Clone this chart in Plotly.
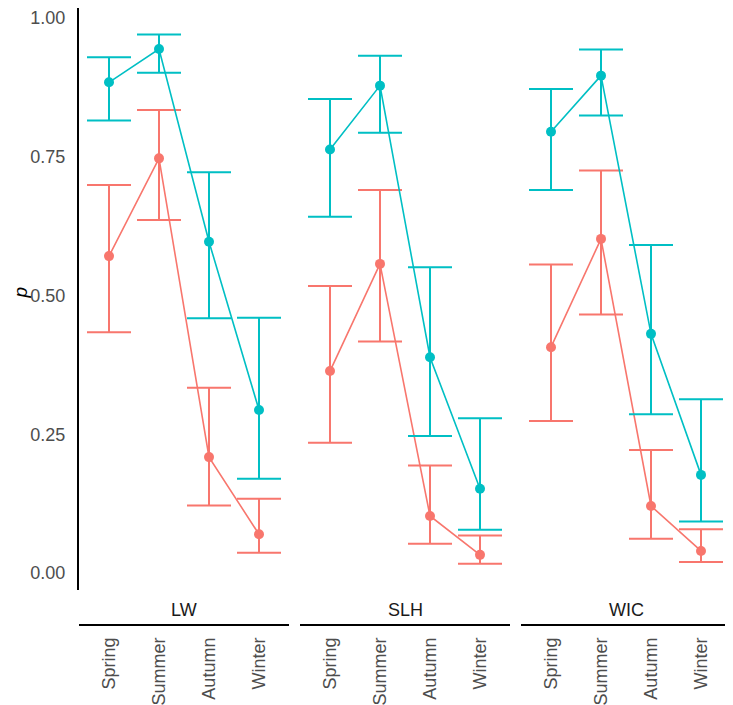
# Seasonal p by site, two groups, with error bars

import plotly.graph_objects as go
from plotly.subplots import make_subplots

sites = ['LW', 'SLH', 'WIC']
seasons = ['Spring', 'Summer', 'Autumn', 'Winter']

# red group (estimate, lower, upper) per site
red_p = {'LW': [0.571, 0.747, 0.209, 0.070],
         'SLH': [0.364, 0.557, 0.103, 0.033],
         'WIC': [0.407, 0.602, 0.121, 0.040]}
red_lo = {'LW': [0.434, 0.636, 0.122, 0.037],
          'SLH': [0.235, 0.417, 0.053, 0.017],
          'WIC': [0.274, 0.466, 0.062, 0.020]}
red_hi = {'LW': [0.699, 0.834, 0.334, 0.134],
          'SLH': [0.517, 0.690, 0.194, 0.068],
          'WIC': [0.556, 0.725, 0.222, 0.079]}

# teal group
teal_p = {'LW': [0.884, 0.944, 0.597, 0.294],
          'SLH': [0.763, 0.878, 0.389, 0.152],
          'WIC': [0.795, 0.896, 0.431, 0.177]}
teal_lo = {'LW': [0.815, 0.901, 0.459, 0.170],
           'SLH': [0.642, 0.793, 0.247, 0.078],
           'WIC': [0.690, 0.824, 0.286, 0.093]}
teal_hi = {'LW': [0.929, 0.970, 0.722, 0.460],
           'SLH': [0.854, 0.932, 0.551, 0.279],
           'WIC': [0.872, 0.943, 0.591, 0.313]}

y_ticks = [0.00, 0.25, 0.50, 0.75, 1.00]

RED = '#F8766D'
TEAL = '#00BFC4'
FONT = 'Liberation Sans, Arial, sans-serif'

# the page body adds an 8px margin, so the figure is drawn 8px in
OFF = 8
W, H = 733 - OFF, 705 - OFF


def xp(x):  # page pixel -> paper x
    return (x - OFF) / W


def yp(y):  # page pixel -> paper y
    return (H - (y - OFF)) / H


fig = make_subplots(rows=1, cols=3, shared_yaxes=True)

for i, site in enumerate(sites):
    for col, p, lo, hi in [(RED, red_p, red_lo, red_hi), (TEAL, teal_p, teal_lo, teal_hi)]:
        fig.add_trace(go.Scatter(
            x=seasons, y=p[site],
            mode='lines+markers',
            line=dict(color=col, width=1.6),
            marker=dict(color=col, size=10),
            error_y=dict(type='data', symmetric=False,
                         array=[h - v for h, v in zip(hi[site], p[site])],
                         arrayminus=[v - l for v, l in zip(p[site], lo[site])],
                         color=col, thickness=2, width=22),
            showlegend=False,
        ), row=1, col=i + 1)

# panel positions in page pixels
panels = [(79, 289), (300, 510), (521, 731)]
y_bot, y_top = 590, 2

for i, (x0, x1) in enumerate(panels):
    ax = '' if i == 0 else str(i + 1)
    fig.layout['xaxis' + ax].update(
        domain=[xp(x0), xp(x1)],
        type='category', categoryorder='array', categoryarray=seasons,
        range=[-0.6, 3.6],
        showgrid=False, zeroline=False, showline=False,
        ticks='', tickangle=-90,
        anchor='free', position=yp(633),
        tickfont=dict(family=FONT, size=18, color='#4D4D4D'),
    )
    # strip label and line under each panel
    fig.add_annotation(text=sites[i], xref='x' + ax + ' domain', yref='paper',
                       x=0.5, y=yp(610), xanchor='center', yanchor='middle',
                       showarrow=False,
                       font=dict(family=FONT, size=18, color='#1A1A1A'))
    fig.add_shape(type='line', xref='x' + ax + ' domain', yref='paper',
                  x0=0, x1=1, y0=yp(625), y1=yp(625),
                  line=dict(color='black', width=2))

fig.update_yaxes(domain=[yp(y_bot), min(1, yp(y_top))],
                 range=[-0.0303, 1.0178], showgrid=False, zeroline=False)
fig.layout.yaxis.update(
    showline=True, linecolor='black', linewidth=2,
    tickvals=y_ticks, ticktext=[f'{v:.2f}' for v in y_ticks],
    ticks='outside', ticklen=8, tickcolor='rgba(0,0,0,0)',
    tickfont=dict(family=FONT, size=18, color='#4D4D4D'),
)
for ax in ['yaxis2', 'yaxis3']:
    fig.layout[ax].update(showticklabels=False, showline=False)

fig.add_annotation(text='<i>p</i>', xref='paper', yref='paper',
                   x=xp(8), y=yp(293), xanchor='left', yanchor='middle',
                   textangle=-90, showarrow=False, borderpad=0,
                   font=dict(family=FONT, size=19, color='black'))

fig.update_layout(
    width=W, height=H,
    margin=dict(l=0, r=0, t=0, b=0),
    plot_bgcolor='white', paper_bgcolor='white',
)

fig.write_html('out.html')
